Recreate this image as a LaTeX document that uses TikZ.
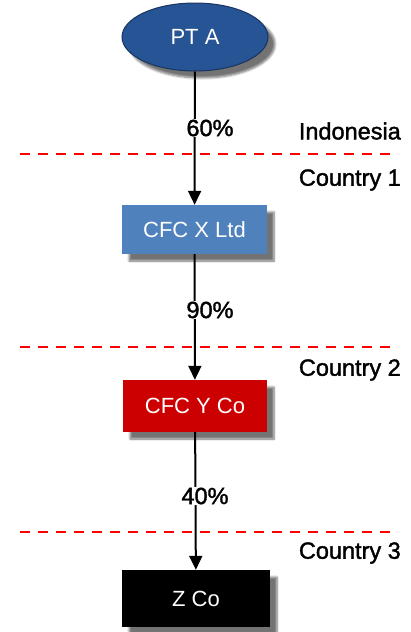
\documentclass[tikz,border=0pt]{standalone}
\usepackage{fontspec}
\setmainfont{Liberation Sans}
\newfontfamily\labelfont[FakeBold=1.5]{Liberation Sans}
\usepackage{tikz}
\usetikzlibrary{shapes.geometric,shadows.blur,arrows.meta}

\definecolor{ptblue}{RGB}{38,84,148}
\definecolor{ptedge}{RGB}{24,52,96}
\definecolor{xblue}{RGB}{79,129,189}
\definecolor{yred}{RGB}{204,0,0}

\begin{document}
\begin{tikzpicture}[x=1pt,y=-1pt,
    company/.style={draw=none, text=white, inner sep=0,
        font=\fontsize{22}{26}\selectfont,
        blur shadow={shadow xshift=7pt, shadow yshift=-7pt, shadow blur steps=6, shadow opacity=55}},
    share/.style={fill=white, inner sep=1pt, font=\labelfont\fontsize{23.5}{26}\selectfont},
    country/.style={anchor=east, inner sep=0, font=\labelfont\fontsize{23.5}{26}\selectfont},
    border/.style={red, line width=2.4pt, dash pattern=on 10pt off 8pt},
    link/.style={line width=2pt, -{Triangle[width=13pt,length=14pt]}}]
            \useasboundingbox (0,0) rectangle (411,632);

            \node[company, ellipse, fill=ptblue, draw=ptedge, line width=1pt,
                  minimum width=146pt, minimum height=68pt] (pta) at (195,37) {PT A};
            \node[company, fill=xblue, minimum width=145pt, minimum height=49pt] (cfcx) at (194.5,229.5) {CFC X Ltd};
            \node[company, fill=yred, minimum width=144pt, minimum height=52pt] (cfcy) at (195,406) {CFC Y Co};
            \node[company, fill=black, minimum width=148pt, minimum height=57pt] (zco) at (196,598.5) {Z Co};

            % ownership links
            \draw[link] (pta) -- (cfcx);
            \draw[link] (cfcx) -- (cfcy);
            \draw[link] (cfcy) -- (zco);

            \node[share] (s1) at (210,128) {60\%};
            \node[share] (s2) at (210,310) {90\%};
            \node[share] (s3) at (205,496) {40\%};

            % borders between countries
            \coordinate (b1w) at (20,154);  \coordinate (b1e) at (398,154);
            \coordinate (b2w) at (20,347);  \coordinate (b2e) at (398,347);
            \coordinate (b3w) at (20,532);  \coordinate (b3e) at (398,532);
            \draw[border] (b1w) -- (b1e);
            \draw[border] (b2w) -- (b2e);
            \draw[border] (b3w) -- (b3e);

            \node[country] (indo) at (401,131) {Indonesia};
            \node[country] (c1) at (401,180) {Country 1};
            \node[country] (c2) at (401,370) {Country 2};
            \node[country] (c3) at (401,553) {Country 3};

            \end{tikzpicture}
\end{document}
